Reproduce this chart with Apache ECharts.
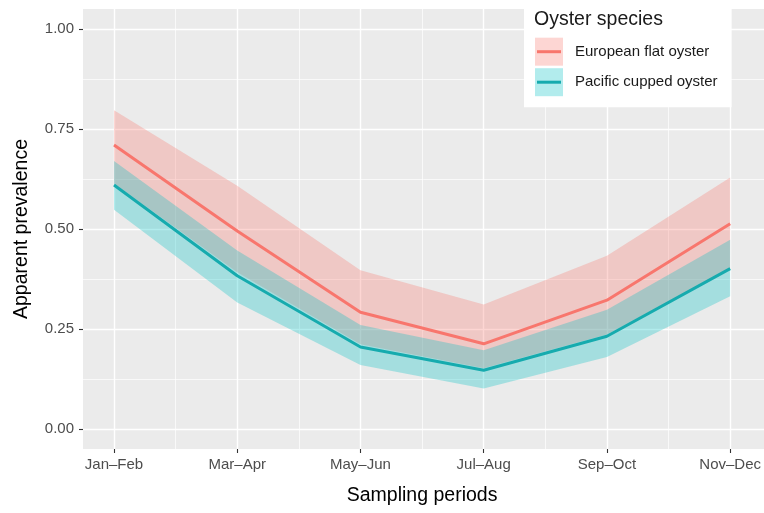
<!DOCTYPE html>
<html>
<head>
<meta charset="utf-8">
<script src="https://cdn.jsdelivr.net/npm/echarts@6/dist/echarts.min.js"></script>
<style>
  html, body { margin: 0; padding: 0; background: #ffffff; }
  #chart { width: 764px; height: 513px; }
</style>
</head>
<body>
<div id="chart"></div>
<script>
// Sampling periods (x axis) and apparent prevalence per oyster species
const periods = ['Jan–Feb', 'Mar–Apr', 'May–Jun', 'Jul–Aug', 'Sep–Oct', 'Nov–Dec'];
const yTicks = [0, 0.25, 0.5, 0.75, 1];

const flatMean = [0.710, 0.495, 0.292, 0.213, 0.322, 0.513];
const flatLow  = [0.614, 0.392, 0.212, 0.152, 0.236, 0.402];
const flatHigh = [0.797, 0.608, 0.397, 0.311, 0.433, 0.629];

const cuppedMean = [0.610, 0.383, 0.205, 0.147, 0.232, 0.401];
const cuppedLow  = [0.548, 0.316, 0.160, 0.101, 0.180, 0.332];
const cuppedHigh = [0.670, 0.446, 0.260, 0.197, 0.298, 0.473];

const flatName = 'European flat oyster';
const cuppedName = 'Pacific cupped oyster';
const flatColor = '#F8766D';
const cuppedColor = '#16ABAE';
const flatFill = 'rgba(248,118,109,0.3)';
const cuppedFill = 'rgba(0,191,196,0.3)';

const FONT = '"Liberation Sans", Arial, Helvetica, sans-serif';

// periods are placed at 1..6 on a continuous axis
const pts = arr => arr.map((v, i) => [i + 1, v]);
const band = (lo, hi) => lo.map((v, i) => [i + 1, v, hi[i]]);

// ribbon drawn as one polygon: upper bound left→right, lower bound right→left
function ribbon(fill) {
  return function (params, api) {
    if (params.dataIndexInside !== 0) return null;
    const n = params.dataInsideLength;
    const upper = [], lower = [];
    for (let i = 0; i < n; i++) {
      const x = api.value(0, i);
      upper.push(api.coord([x, api.value(2, i)]));
      lower.push(api.coord([x, api.value(1, i)]));
    }
    return {
      type: 'polygon',
      shape: { points: upper.concat(lower.reverse()) },
      style: { fill: fill, stroke: null }
    };
  };
}

const chart = echarts.init(document.getElementById('chart'), null, { renderer: 'canvas' });

const gridLine = { show: true, lineStyle: { color: '#ffffff', width: 1.4 } };
const minorLine = { show: true, lineStyle: { color: '#ffffff', width: 0.7 } };

const option = {
  animation: false,
  backgroundColor: '#ffffff',
  textStyle: { fontFamily: FONT },
  grid: [
    // panel background
    { left: 83, right: 0, top: 9, bottom: 64, show: true, backgroundColor: '#EBEBEB', borderWidth: 0 },
    // horizontal gridlines and y labels (0..1)
    { left: 83, right: 0, top: 29, bottom: 84, show: false },
    // data panel with vertical gridlines (periods 1..6, y padded 5%)
    { left: 114, right: 31, top: 9, bottom: 64, show: false }
  ],
  xAxis: [
    { gridIndex: 0, type: 'value', min: 0, max: 1, show: false },
    { gridIndex: 1, type: 'value', min: 0, max: 1, show: false },
    {
      gridIndex: 2, type: 'value', min: 1, max: 6, interval: 1,
      name: 'Sampling periods', nameLocation: 'middle', nameGap: 37,
      nameTextStyle: { fontSize: 19.5, color: '#000000', fontFamily: FONT },
      axisLine: { show: false, onZero: false },
      axisTick: { show: true, length: 4, lineStyle: { color: '#333333', width: 1.1 } },
      axisLabel: {
        margin: 8, fontSize: 15, color: '#4D4D4D', fontFamily: FONT,
        formatter: v => periods[Math.round(v) - 1] || ''
      },
      splitLine: gridLine,
      minorTick: { show: false, splitNumber: 2 },
      minorSplitLine: minorLine
    }
  ],
  yAxis: [
    { gridIndex: 0, type: 'value', min: 0, max: 1, show: false },
    {
      gridIndex: 1, type: 'value', min: yTicks[0], max: yTicks[yTicks.length - 1], interval: 0.25,
      name: 'Apparent prevalence', nameLocation: 'middle', nameGap: 51,
      nameTextStyle: { fontSize: 19.5, color: '#000000', fontFamily: FONT },
      axisLine: { show: false, onZero: false },
      axisTick: { show: true, length: 4, lineStyle: { color: '#333333', width: 1.1 } },
      axisLabel: {
        margin: 9, fontSize: 15, color: '#4D4D4D', fontFamily: FONT,
        formatter: v => v.toFixed(2)
      },
      splitLine: gridLine,
      minorTick: { show: false, splitNumber: 2 },
      minorSplitLine: minorLine
    },
    { gridIndex: 2, type: 'value', min: -0.05, max: 1.05, show: false }
  ],
  title: {
    text: 'Oyster species',
    left: 534, top: 7.5, padding: 0,
    textStyle: { fontSize: 19.5, fontWeight: 'normal', color: '#1A1A1A', fontFamily: FONT, lineHeight: 24 }
  },
  legend: {
    orient: 'vertical',
    left: 524, top: -4,
    padding: [41.7, 14, 11, 11],
    backgroundColor: '#ffffff',
    itemWidth: 28, itemHeight: 28, itemGap: 2.5,
    icon: 'rect',
    selectedMode: false,
    textStyle: { fontSize: 15, color: '#1A1A1A', fontFamily: FONT, padding: [0, 0, 0, 7] },
    data: [
      { name: flatName, itemStyle: { color: flatFill, borderWidth: 0 } },
      { name: cuppedName, itemStyle: { color: cuppedFill, borderWidth: 0 } }
    ]
  },
  graphic: [
    { type: 'rect', z: 100, silent: true, shape: { x: 537, y: 50.2, width: 24, height: 3 }, style: { fill: flatColor } },
    { type: 'rect', z: 100, silent: true, shape: { x: 537, y: 80.7, width: 24, height: 3 }, style: { fill: cuppedColor } }
  ],
  series: [
    // confidence ribbons
    {
      name: flatName, type: 'custom', xAxisIndex: 2, yAxisIndex: 2,
      data: band(flatLow, flatHigh), encode: { x: 0, y: [1, 2] },
      renderItem: ribbon(flatFill), itemStyle: { color: flatFill }, silent: true
    },
    {
      name: cuppedName, type: 'custom', xAxisIndex: 2, yAxisIndex: 2,
      data: band(cuppedLow, cuppedHigh), encode: { x: 0, y: [1, 2] },
      renderItem: ribbon(cuppedFill), itemStyle: { color: cuppedFill }, silent: true
    },
    // mean prevalence lines
    {
      name: 'flat-mean', type: 'line', xAxisIndex: 2, yAxisIndex: 2,
      data: pts(flatMean), symbol: 'none', silent: true,
      lineStyle: { color: flatColor, width: 3 }, itemStyle: { color: flatColor }
    },
    {
      name: 'cupped-mean', type: 'line', xAxisIndex: 2, yAxisIndex: 2,
      data: pts(cuppedMean), symbol: 'none', silent: true,
      lineStyle: { color: cuppedColor, width: 3 }, itemStyle: { color: cuppedColor }
    }
  ]
};

chart.setOption(option);
</script>
</body>
</html>
